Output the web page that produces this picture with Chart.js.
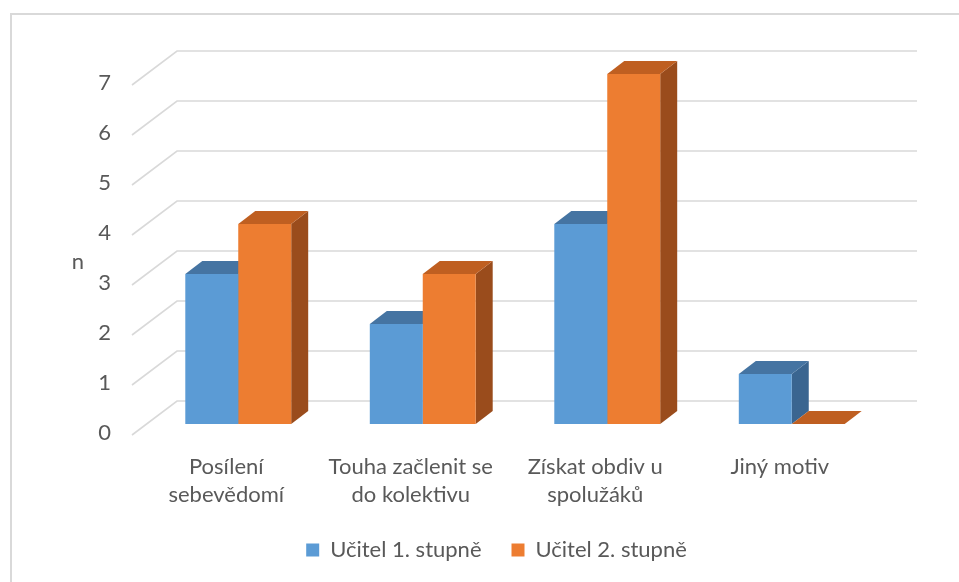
<!DOCTYPE html>
<html lang="cs">
<head>
  <meta charset="UTF-8">
  <title>Motivy</title>
  <script src="https://cdn.jsdelivr.net/npm/chart.js@4"></script>
  <style>
    html, body { margin: 0; padding: 0; background: #fff; }
    .graf-box { position: relative; width: 959px; height: 582px; }
  </style>
</head>
<body>
  <div class="graf-box"><canvas id="motivChart" width="959" height="582"></canvas></div>
  <script>
    const kategorie = [['Posílení', 'sebevědomí'], ['Touha začlenit se', 'do kolektivu'], ['Získat obdiv u', 'spolužáků'], ['Jiný motiv']];
    const ucitel1 = [3, 2, 4, 1];
    const ucitel2 = [4, 3, 7, 0];
    const nazvySerii = ['Učitel 1. stupně', 'Učitel 2. stupně'];
    const osaYMin = 0, osaYMax = 7, osaYKrok = 1;
    const nazevOsyY = 'n';

    const barvy = [
      { front: '#5b9bd5', top: '#4574a2', side: '#3a6590' },
      { front: '#ed7d31', top: '#bf5f21', side: '#9a4c1c' }
    ];
    const sedaText = '#595959';
    const mrizka = '#d9d9d9';
    const hloubka = { dx: 17, dy: -13 };   // hloubka sloupce
    const bokPred = { dx: 14, dy: 11 };    // od roviny sloupcu k prednimu okraji
    const bokZad = { dx: 31, dy: -23 };    // od roviny sloupcu k zadni stene

    Chart.defaults.font.family = 'Lato, "Open Sans", sans-serif';
    Chart.defaults.font.size = 22;
    Chart.defaults.color = sedaText;

    const prostor3d = {
      id: 'prostor3d',
      afterInit(chart) {
        const puvodni = chart.legend.fit;
        chart.legend.fit = function () {
          puvodni.call(this);
          this.height = 73;
        };
      },
      beforeDraw(chart) {
        const c = chart.ctx;
        c.save();
        c.strokeStyle = mrizka;
        c.lineWidth = 2;
        c.beginPath();
        c.moveTo(11, chart.height);
        c.lineTo(11, 14);
        c.lineTo(chart.width, 14);
        c.stroke();
        c.fillStyle = sedaText;
        c.font = '22px Lato, "Open Sans", sans-serif';
        c.textAlign = 'center';
        c.textBaseline = 'middle';
        c.fillText(nazevOsyY, 78, 262);
        c.restore();
      },
      beforeDatasetsDraw(chart) {
        const c = chart.ctx;
        const y = chart.scales.y;
        const a = chart.chartArea;
        c.save();
        c.strokeStyle = mrizka;
        c.lineWidth = 1.6;
        for (let v = osaYMin; v <= osaYMax; v += osaYKrok) {
          const py = y.getPixelForValue(v);
          c.beginPath();
          c.moveTo(a.left - bokPred.dx, py + bokPred.dy);
          c.lineTo(a.left + bokZad.dx, py + bokZad.dy);
          c.lineTo(a.right + bokZad.dx + 2, py + bokZad.dy);
          c.stroke();
        }
        const pocet = chart.data.labels.length;
        for (let i = 0; i < pocet; i++) {
          chart.data.datasets.forEach((ds, d) => {
            const el = chart.getDatasetMeta(d).data[i];
            const l = el.x - el.width / 2, r = el.x + el.width / 2;
            const t = el.y, b = el.base;
            c.fillStyle = barvy[d].side;
            c.beginPath();
            c.moveTo(r, t);
            c.lineTo(r + hloubka.dx, t + hloubka.dy);
            c.lineTo(r + hloubka.dx, b + hloubka.dy);
            c.lineTo(r, b);
            c.closePath();
            c.fill();
            c.fillStyle = barvy[d].top;
            c.beginPath();
            c.moveTo(l, t);
            c.lineTo(r, t);
            c.lineTo(r + hloubka.dx, t + hloubka.dy);
            c.lineTo(l + hloubka.dx, t + hloubka.dy);
            c.closePath();
            c.fill();
          });
        }
        c.restore();
      }
    };

    new Chart(document.getElementById('motivChart'), {
      type: 'bar',
      data: {
        labels: kategorie,
        datasets: [
          { label: nazvySerii[0], data: ucitel1, backgroundColor: barvy[0].front, borderWidth: 0 },
          { label: nazvySerii[1], data: ucitel2, backgroundColor: barvy[1].front, borderWidth: 0 }
        ]
      },
      options: {
        responsive: false,
        animation: false,
        layout: { padding: { top: 74, left: 34, right: 0, bottom: 0 } },
        datasets: { bar: { barPercentage: 1, categoryPercentage: 0.574 } },
        plugins: {
          tooltip: { enabled: false },
          legend: {
            position: 'bottom',
            labels: { boxWidth: 13, boxHeight: 13, padding: 30, color: sedaText }
          }
        },
        scales: {
          x: {
            grid: { display: false, drawTicks: false },
            border: { display: false },
            ticks: { padding: 29, labelOffset: -12, maxRotation: 0, autoSkip: false, font: { lineHeight: 1.27 } },
            afterFit(s) { s.height = 85; }
          },
          y: {
            min: osaYMin, max: osaYMax,
            grid: { display: false, drawTicks: false },
            border: { display: false },
            ticks: { stepSize: osaYKrok, padding: 35, labelOffset: 9 },
            afterFit(s) { s.width = 112; }
          },
          vpravo: {
            position: 'right',
            grid: { display: false, drawTicks: false },
            border: { display: false },
            ticks: { display: false },
            afterFit(s) { s.width = 75; }
          }
        }
      },
      plugins: [prostor3d]
    });
  </script>
</body>
</html>
